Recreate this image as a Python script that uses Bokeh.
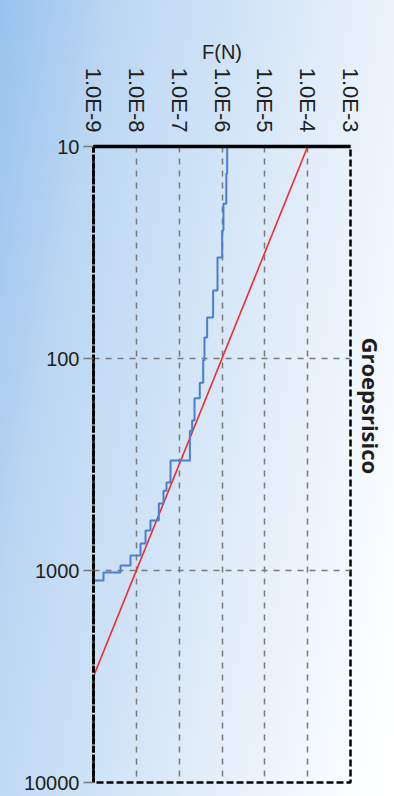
import math
from bokeh.plotting import figure
from bokeh.models import Range1d, FixedTicker, CustomJSTickFormatter, Title
from bokeh.embed import file_html
from bokeh.resources import INLINE

# ---- data ----
f_ticks = [1e-9, 1e-8, 1e-7, 1e-6, 1e-5, 1e-4, 1e-3]
n_ticks = [10, 100, 1000, 10000]

# observed group risk: step curve (N threshold, F for N >= threshold)
blue_n = [10, 13.4, 18.6, 24.9, 33.4, 47.8, 64.1, 79.6, 102, 130, 154, 196, 219,
          303, 385, 420, 483, 581, 648, 746, 849, 947, 1021, 1114]
blue_f = [1.32e-6, 1.26e-6, 1.08e-6, 1.01e-6, 7.85e-7, 6.2e-7, 4.5e-7, 3.9e-7,
          3.64e-7, 3.03e-7, 2.28e-7, 2.01e-7, 1.78e-7, 6.28e-8, 5.06e-8, 4.3e-8,
          3.35e-8, 2.14e-8, 1.64e-8, 1.25e-8, 7.3e-9, 4.27e-9, 1.71e-9, 8e-10]

# norm line
red_n = [10, 3162]
red_f = [1e-4, 1e-9]

title_text = "Groepsrisico"
x_label = "F(N)"

# ---- build step path from data ----
step_x, step_y = [], []
for i in range(len(blue_n)):
    step_x.append(blue_f[i]); step_y.append(blue_n[i])
    if i + 1 < len(blue_n):
        step_x.append(blue_f[i]); step_y.append(blue_n[i + 1])

p = figure(width=394, height=796, x_axis_type="log", y_axis_type="log",
           x_range=Range1d(f_ticks[0], f_ticks[-1]),
           y_range=Range1d(n_ticks[-1], n_ticks[0]),
           x_axis_location="above", output_backend="svg", toolbar_location=None,
           min_border_left=93, min_border_right=44, min_border_top=146, min_border_bottom=14)

p.background_fill_color = None
p.border_fill_color = None
p.styles = {"background": "linear-gradient(100deg, #98c2ee 0%, #bcd7f3 22%, #d3e5f7 48%, #e9f2fb 72%, #fbfdff 92%, #ffffff 100%)"}

p.outline_line_color = "black"
p.outline_line_width = 2.5
p.outline_line_dash = "7 3"

p.xgrid.ticker = FixedTicker(ticks=f_ticks[1:-1])
p.ygrid.ticker = FixedTicker(ticks=n_ticks[1:-1])
for g in (p.xgrid, p.ygrid):
    g.grid_line_color = "#7a7a7a"
    g.grid_line_width = 1.5
    g.grid_line_dash = "6 6"

xa = p.xaxis[0]
xa.ticker = FixedTicker(ticks=f_ticks, minor_ticks=[])
xa.formatter = CustomJSTickFormatter(code="return '1.0E' + Math.round(Math.log10(tick));")
xa.major_label_orientation = -math.pi / 2
xa.major_label_text_font = "Liberation Sans"
xa.major_label_text_font_size = "22px"
xa.major_label_text_color = "#1e1e1e"
xa.major_label_standoff = 14
xa.major_tick_out = 0
xa.major_tick_in = 0
xa.axis_line_width = 3.5
xa.axis_line_color = "black"
xa.axis_label = x_label
xa.axis_label_text_font = "Liberation Sans"
xa.axis_label_text_font_style = "normal"
xa.axis_label_text_font_size = "20px"
xa.axis_label_text_color = "#1e1e1e"
xa.axis_label_standoff = 2

ya = p.yaxis[0]
ya.ticker = FixedTicker(ticks=n_ticks, minor_ticks=[])
ya.formatter = CustomJSTickFormatter(code="return Math.round(tick).toString();")
ya.major_label_text_font = "Liberation Sans"
ya.major_label_text_font_size = "20px"
ya.major_label_text_color = "#1e1e1e"
ya.major_label_standoff = 4
ya.major_tick_out = 10
ya.major_tick_in = 0
ya.major_tick_line_color = "#777777"
ya.major_tick_line_width = 1.5
ya.axis_line_color = "black"
ya.axis_line_width = 3
ya.axis_line_dash = "6 2"

p.line(red_f, red_n, line_color="#f52a2a", line_width=1.6)
p.line(step_x, step_y, line_color="#4a7fd0", line_width=2)

p.add_layout(Title(text=title_text, align="left", offset=191, standoff=10,
                   text_font="Open Sans", text_font_style="bold", text_font_size="22px",
                   text_color="#1e1e1e"), "right")

open("out.html", "w").write(file_html(p, INLINE))
